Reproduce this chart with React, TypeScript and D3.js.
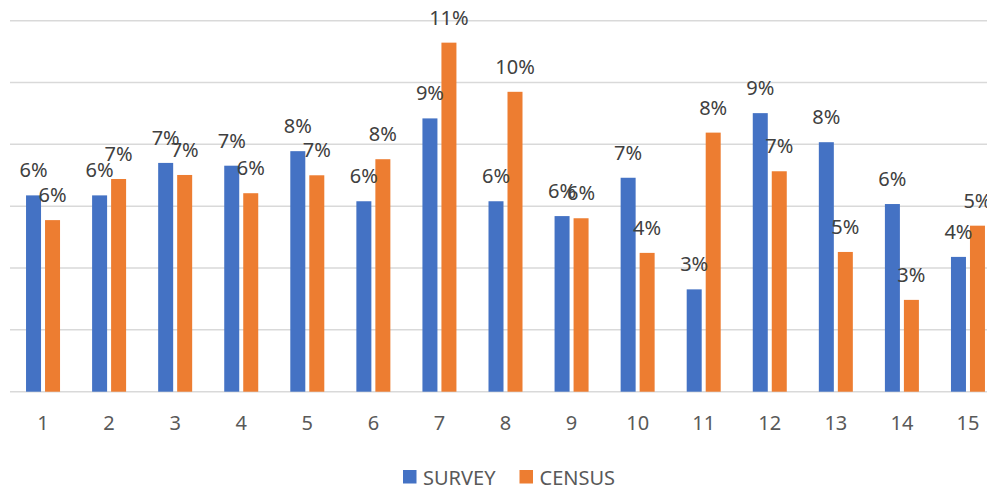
import React from "react";
import * as d3 from "d3";

const categories = ["1","2","3","4","5","6","7","8","9","10","11","12","13","14","15"];
const survey = [0.0635,0.0635,0.074,0.0731,0.0778,0.0616,0.0884,0.0616,0.0568,0.0692,0.0331,0.0901,0.0807,0.0607,0.0436];
const census = [0.0555,0.0688,0.0701,0.0642,0.07,0.0752,0.1129,0.097,0.0561,0.0449,0.0838,0.0713,0.0452,0.0297,0.0537];
const yTicks = [0,0.02,0.04,0.06,0.08,0.1,0.12];
const seriesNames = ["SURVEY","CENSUS"];
const colors = ["#4472C4","#ED7D31"];

const W = 987, H = 489;
const FONT = "'Noto Sans', 'Open Sans', sans-serif";

export default function App() {
  const x = d3.scaleBand<string>().domain(categories).range([10, 1001]).paddingInner(0).paddingOuter(0);
  const y = d3.scaleLinear().domain([0, 0.12]).range([391.7, 20.7]);
  const barW = 15, gap = 4;
  const fmt = d3.format(".0%");
  const series = [survey, census];

  return (
    <svg width={W} height={H} style={{ position: "absolute", left: 0, top: 0, background: "#fff" }} fontFamily={FONT}>
      <rect x={0} y={0} width={W} height={H} fill="#fff" />
      {yTicks.map((t) => (
        <line key={t} x1={10} x2={1001} y1={y(t)} y2={y(t)} stroke="#d9d9d9" strokeWidth={1.5} />
      ))}
      {series.map((vals, si) =>
        vals.map((v, i) => {
          const cx = x(categories[i])! + x.bandwidth() / 2;
          const bx = si === 0 ? cx - gap / 2 - barW : cx + gap / 2;
          return (
            <g key={`${si}-${i}`}>
              <rect x={bx} y={y(v)} width={barW} height={y(0) - y(v)} fill={colors[si]} />
            </g>
          );
        })
      )}
      {series.map((vals, si) =>
        vals.map((v, i) => {
          const cx = x(categories[i])! + x.bandwidth() / 2;
          const bx = si === 0 ? cx - gap / 2 - barW : cx + gap / 2;
          return (
            <text key={`l${si}-${i}`} x={bx + barW / 2} y={y(v) - 18} textAnchor="middle" fontSize={20} fill="#404040">
              {fmt(v)}
            </text>
          );
        })
      )}
      {categories.map((c) => (
        <text key={c} x={x(c)! + x.bandwidth() / 2} y={430} textAnchor="middle" fontSize={20} fill="#595959">
          {c}
        </text>
      ))}
      {seriesNames.map((n, i) => {
        const lx = i === 0 ? 403 : 519.5;
        return (
          <g key={n}>
            <rect x={lx} y={470} width={13.5} height={13.5} fill={colors[i]} />
            <text x={lx + 20} y={484.5} fontSize={20} fill="#595959">{n}</text>
          </g>
        );
      })}
    </svg>
  );
}
